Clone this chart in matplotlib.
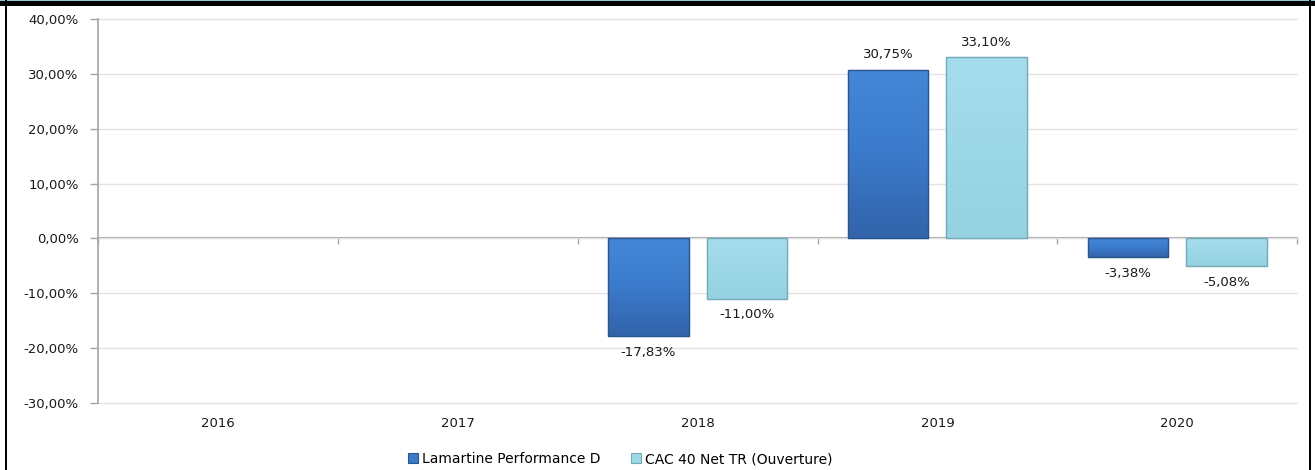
import matplotlib
matplotlib.use("Agg")
import matplotlib.pyplot as plt
import numpy as np
from matplotlib.colors import LinearSegmentedColormap
from matplotlib.patches import Rectangle

years = ["2016", "2017", "2018", "2019", "2020"]
fund = [np.nan, np.nan, -17.83, 30.75, -3.38]
index = [np.nan, np.nan, -11.00, 33.10, -5.08]
series_names = ["Lamartine Performance D", "CAC 40 Net TR (Ouverture)"]
yticks = [-30, -20, -10, 0, 10, 20, 30, 40]


def fmt(v):
    return f"{v:.2f}".replace(".", ",") + "%"


fig = plt.figure(figsize=(13.15, 4.7), dpi=100)
ax = fig.add_axes([0.0745, 0.1426, 0.912, 0.817])

x = np.arange(len(years))
width = 0.335
offset = 0.205

# (face, vertical gradient top->bottom, edge)
styles = [
    ("#3b7acb", ["#4487d7", "#3b7acb", "#3264aa"], "#2a5690"),
    ("#9dd8e7", ["#a6dded", "#9dd8e7", "#96d1e0"], "#74abba"),
]

handles = []
for i, (vals, name) in enumerate(zip([fund, index], series_names)):
    face, grad, edge = styles[i]
    pos = x + (-offset if i == 0 else offset)
    bars = ax.bar(pos, vals, width, color=face, edgecolor=edge, linewidth=0.8,
                  label=name, zorder=3)
    cmap = LinearSegmentedColormap.from_list(f"g{i}", grad)
    g = np.linspace(0, 1, 64).reshape(-1, 1)
    for b, v in zip(bars, vals):
        if np.isnan(v):
            continue
        x0, y0 = b.get_x(), b.get_y()
        w, h = b.get_width(), b.get_height()
        im = ax.imshow(g, cmap=cmap, aspect="auto", zorder=3.5,
                       extent=[x0, x0 + w, min(y0, y0 + h), max(y0, y0 + h)])
        im.set_clip_path(b)
        ax.add_patch(Rectangle((x0, y0), w, h, fill=False, edgecolor=edge,
                               linewidth=1.0, zorder=4))
        if v >= 0:
            ax.annotate(fmt(v), (b.get_x() + w / 2, v), xytext=(0, 6),
                        textcoords="offset points", ha="center", va="bottom",
                        fontsize=9.5, color="#1a1a1a")
        else:
            ax.annotate(fmt(v), (b.get_x() + w / 2, v), xytext=(0, -7),
                        textcoords="offset points", ha="center", va="top",
                        fontsize=9.5, color="#1a1a1a")
    handles.append(Rectangle((0, 0), 1, 1, facecolor=face, edgecolor=edge, linewidth=0.8))

ax.set_xlim(-0.5, len(years) - 0.5)
ax.set_ylim(-30, 40)
ax.set_yticks(yticks)
ax.set_yticklabels([fmt(t) for t in yticks], fontsize=9.5, color="#1a1a1a")
ax.set_xticks(x)
ax.set_xticklabels(years, fontsize=9.5, color="#1a1a1a")
ax.tick_params(axis="x", length=0, pad=10)
ax.tick_params(axis="y", length=6, width=1, color="#a6a6a6", pad=8)
ax.grid(axis="y", color="#e3e3e3", linewidth=1, zorder=0)
ax.set_axisbelow(True)
for line in ax.get_ygridlines():
    line.set_clip_on(False)
for s in ["top", "right", "bottom"]:
    ax.spines[s].set_visible(False)
ax.spines["left"].set_color("#a6a6a6")
ax.spines["left"].set_linewidth(1.2)

# zero axis with category boundary ticks
sec = ax.secondary_xaxis(3 / 7)
sec.set_xticks(np.arange(len(years) + 1) - 0.5)
sec.set_xticklabels([""] * (len(years) + 1))
sec.tick_params(length=4, width=1, color="#a6a6a6", direction="out")
sec.spines["bottom"].set_color("#a6a6a6")
sec.spines["bottom"].set_linewidth(1.5)

fig.legend(handles, series_names, loc="center", bbox_to_anchor=(0.4715, 0.023),
           ncol=2, frameon=False, fontsize=10, handlelength=0.7, handleheight=0.7,
           handletextpad=0.3, columnspacing=2.2)

# page frame
fig.patches.append(Rectangle((0, 0.988), 1, 0.012, transform=fig.transFigure,
                             facecolor="black", edgecolor="none"))
fig.patches.append(Rectangle((0, 0.998), 1, 0.002, transform=fig.transFigure,
                             facecolor="#8fc7d6", edgecolor="none"))
fig.patches.append(Rectangle((0.0035, 0), 0.0018, 1, transform=fig.transFigure,
                             facecolor="black", edgecolor="none"))
fig.patches.append(Rectangle((0.9953, 0), 0.0018, 1, transform=fig.transFigure,
                             facecolor="black", edgecolor="none"))

fig.savefig("out.png", dpi=100)
